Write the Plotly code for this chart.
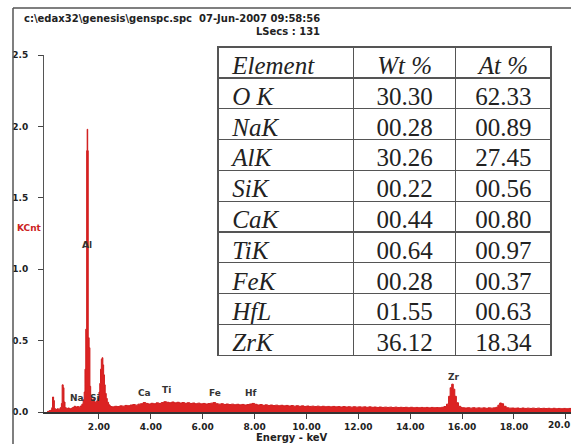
import plotly.graph_objects as go

# ---- spectrum ----
energy_kev = [
    0.00, 0.08, 0.14, 0.18, 0.21, 0.25, 0.28, 0.32, 0.38, 0.44,
    0.50, 0.55, 0.58, 0.62, 0.65, 0.69, 0.74, 0.80, 0.86, 0.92,
    0.98, 1.04, 1.10, 1.16, 1.22, 1.28, 1.34, 1.39, 1.43, 1.46,
    1.49, 1.525, 1.545, 1.565, 1.585, 1.62, 1.65, 1.68, 1.72, 1.76,
    1.81, 1.86, 1.91, 1.96, 2.00, 2.03, 2.06, 2.09, 2.12, 2.15,
    2.18, 2.21, 2.24, 2.28, 2.32, 2.37, 2.42, 2.46,
    2.5, 2.6, 2.7, 2.8, 2.9, 3.0, 3.1, 3.2, 3.3, 3.4,
    3.5, 3.6, 3.7, 3.8, 3.9, 4.0, 4.1, 4.2, 4.3, 4.4,
    4.5, 4.6, 4.7, 4.8, 4.9, 5.0, 5.1, 5.2, 5.3, 5.4,
    5.5, 5.6, 5.7, 5.8, 5.9, 6.0, 6.1, 6.2, 6.3, 6.4,
    6.5, 6.6, 6.7, 6.8, 6.9, 7.0, 7.1, 7.2, 7.3, 7.4,
    7.5, 7.6, 7.7, 7.8, 7.9, 8.0, 8.1, 8.2, 8.3, 8.4,
    8.5, 8.6, 8.7, 8.8, 8.9, 9.0, 9.1, 9.2, 9.3, 9.4,
    9.5, 9.6, 9.7, 9.8, 9.9, 10.0, 10.1, 10.2, 10.3, 10.4,
    10.5, 10.6, 10.7, 10.8, 10.9, 11.0, 11.1, 11.2, 11.3, 11.4,
    11.5, 11.6, 11.7, 11.8, 11.9, 12.0, 12.1, 12.2, 12.3, 12.4,
    12.5, 12.6, 12.7, 12.8, 12.9, 13.0, 13.1, 13.2, 13.3, 13.4,
    13.5, 13.6, 13.7, 13.8, 13.9, 14.0, 14.1, 14.2, 14.3, 14.4,
    14.5, 14.6, 14.7, 14.8, 14.9, 15.0, 15.1, 15.2, 15.3, 15.4,
    15.48, 15.54, 15.60, 15.66, 15.72, 15.78, 15.86, 15.95,
    16.0, 16.1, 16.2, 16.3, 16.4, 16.5, 16.6, 16.7, 16.8, 16.9,
    17.0, 17.1, 17.2, 17.3, 17.38, 17.45, 17.52, 17.6, 17.7, 17.8,
    17.9, 18.0, 18.1, 18.2, 18.3, 18.4, 18.5, 18.6, 18.7, 18.8,
    18.9, 19.0, 19.1, 19.2, 19.3, 19.4, 19.5, 19.6, 19.7, 19.8,
    19.9, 20.0, 20.1, 20.2, 20.3,
]
kcnt = [
    0.004, 0.010, 0.014, 0.030, 0.105, 0.080, 0.024, 0.018, 0.022, 0.020,
    0.030, 0.060, 0.190, 0.170, 0.070, 0.030, 0.025, 0.028, 0.022, 0.026,
    0.032, 0.040, 0.035, 0.038, 0.034, 0.042, 0.055, 0.085, 0.140, 0.300,
    0.580, 1.830, 1.980, 1.830, 0.520, 0.450, 0.180, 0.100, 0.075, 0.090,
    0.072, 0.068, 0.078, 0.095, 0.140, 0.200, 0.300, 0.370, 0.380, 0.330,
    0.260, 0.190, 0.130, 0.095, 0.068, 0.050, 0.042, 0.038,
    0.036, 0.040, 0.038, 0.043, 0.041, 0.046, 0.044, 0.049, 0.052, 0.048,
    0.055, 0.058, 0.066, 0.060, 0.056, 0.061, 0.058, 0.064, 0.060, 0.066,
    0.072, 0.068, 0.065, 0.070, 0.064, 0.068, 0.063, 0.066, 0.061, 0.065,
    0.060, 0.063, 0.058, 0.062, 0.057, 0.060, 0.056, 0.059, 0.062, 0.066,
    0.058, 0.055, 0.058, 0.053, 0.056, 0.052, 0.055, 0.051, 0.054, 0.050,
    0.053, 0.049, 0.052, 0.056, 0.060, 0.054, 0.049, 0.052, 0.047, 0.050,
    0.046, 0.049, 0.045, 0.048, 0.044, 0.047, 0.043, 0.046, 0.042, 0.045,
    0.041, 0.044, 0.040, 0.043, 0.039, 0.042, 0.039, 0.041, 0.038, 0.041,
    0.037, 0.040, 0.037, 0.039, 0.036, 0.039, 0.036, 0.038, 0.035, 0.038,
    0.035, 0.037, 0.034, 0.037, 0.034, 0.036, 0.034, 0.036, 0.033, 0.036,
    0.033, 0.035, 0.032, 0.035, 0.032, 0.034, 0.032, 0.034, 0.031, 0.034,
    0.031, 0.033, 0.031, 0.033, 0.030, 0.033, 0.030, 0.032, 0.030, 0.032,
    0.030, 0.032, 0.029, 0.032, 0.030, 0.031, 0.030, 0.033, 0.038, 0.055,
    0.110, 0.170, 0.195, 0.160, 0.110, 0.065, 0.040, 0.032,
    0.030, 0.028, 0.030, 0.027, 0.030, 0.027, 0.029, 0.027, 0.029, 0.026,
    0.029, 0.027, 0.029, 0.033, 0.048, 0.063, 0.058, 0.040, 0.030, 0.027,
    0.028, 0.026, 0.028, 0.025, 0.028, 0.025, 0.027, 0.025, 0.027, 0.024,
    0.027, 0.024, 0.026, 0.024, 0.026, 0.023, 0.026, 0.023, 0.025, 0.023,
    0.025, 0.023, 0.025, 0.023, 0.024,
]

# ---- peak labels ----
peak_labels = ["Na", "Si", "Al", "Ca", "Ti", "Fe", "Hf", "Zr"]
peak_label_kev = [1.15, 1.85, 1.55, 3.74, 4.62, 6.47, 7.86, 15.69]
peak_label_kcnt = [0.10, 0.10, 1.17, 0.13, 0.155, 0.13, 0.13, 0.245]

# ---- axes ticks (last label is cut by the right edge in the original) ----
x_tick_vals = [2, 4, 6, 8, 10, 12, 14, 16, 18, 20]
x_tick_text = ["2.00", "4.00", "6.00", "8.00", "10.00", "12.00", "14.00", "16.00", "18.00", ""]
x_edge_label = "20.0"
y_tick_vals = [0.0, 0.5, 1.0, 1.5, 2.0, 2.5]
y_tick_text = ["0.0", "0.5", "1.0", "1.5", "2.0", "2.5"]

# ---- composition table ----
table_header = ["Element", "Wt %", "At %"]
table_elements = ["O K", "NaK", "AlK", "SiK", "CaK", "TiK", "FeK", "HfL", "ZrK"]
table_wt = ["30.30", "00.28", "30.26", "00.22", "00.44", "00.64", "00.28", "01.55", "36.12"]
table_at = ["62.33", "00.89", "27.45", "00.56", "00.80", "00.97", "00.37", "00.63", "18.34"]

header_line1 = "c:\\edax32\\genesis\\genspc.spc  07-Jun-2007 09:58:56"
header_line2 = "LSecs : 131"

# ---- geometry (pixels) ----
W, H = 571, 444
ML, MR, MT, MB = 44, 0, 40, 32
PW, PH = W - ML - MR, H - MT - MB


def px(xp):
    return (xp - ML) / PW


def py(yp):
    return (H - MB - yp) / PH


def nb(s):
    # non-breaking spaces keep table cells on one line
    return s.replace(" ", "\u00a0")


RED = "#dc2323"
INK = "#222222"
SANS = "DejaVu Sans"

fig = go.Figure()
fig.add_trace(go.Scatter(
    x=energy_kev, y=kcnt, mode="lines",
    line=dict(color="#d01c1c", width=1, shape="hv"),
    fill="tozeroy", fillcolor=RED, hoverinfo="skip", showlegend=False,
))

fig.add_trace(go.Table(
    domain=dict(x=[px(218), px(551)], y=[py(357), py(47)]),
    columnwidth=[135, 102, 95],
    header=dict(
        values=["\u00a0" + nb(table_header[0]), nb(table_header[1]), nb(table_header[2])],
        align=["left", "center", "center"],
        height=31,
        fill=dict(color="white"),
        line=dict(color="#555555", width=1.2),
        font=dict(family="Liberation Serif", size=25, color=INK, style="italic"),
    ),
    cells=dict(
        values=[["\u00a0" + nb(e) for e in table_elements], table_wt, table_at],
        align=["left", "center", "center"],
        height=30.8,
        fill=dict(color="white"),
        line=dict(color="#555555", width=1.2),
        font=dict(family="Liberation Serif", size=25, color=INK,
                  style=["italic", "normal", "normal"]),
    ),
))

annotations = []
for lab, xv, yv in zip(peak_labels, peak_label_kev, peak_label_kcnt):
    annotations.append(dict(
        x=xv, y=yv, xref="x", yref="y", text="<b>" + lab + "</b>", showarrow=False,
        font=dict(family=SANS, size=9, color="#333333"),
        xanchor="center", yanchor="middle",
    ))

annotations += [
    dict(x=px(322), y=py(18), xref="paper", yref="paper", text="<b>" + nb(header_line1) + "</b>",
         showarrow=False, xanchor="right", yanchor="middle",
         font=dict(family=SANS, size=10, color=INK)),
    dict(x=px(322), y=py(31), xref="paper", yref="paper", text="<b>" + header_line2 + "</b>",
         showarrow=False, xanchor="right", yanchor="middle",
         font=dict(family=SANS, size=10, color=INK)),
    dict(x=px(15), y=py(228), xref="paper", yref="paper", text="<b>KCnt</b>",
         showarrow=False, xanchor="left", yanchor="middle",
         font=dict(family=SANS, size=9, color="#cc2222")),
    dict(x=px(292), y=py(437), xref="paper", yref="paper", text="<b>Energy - keV</b>",
         showarrow=False, xanchor="center", yanchor="middle",
         font=dict(family=SANS, size=10, color=INK)),
    dict(x=1.0, y=py(425), xref="paper", yref="paper", text="<b>" + x_edge_label + "</b>",
         showarrow=False, xanchor="right", yanchor="middle", xshift=1,
         font=dict(family=SANS, size=9, color=INK)),
]

shapes = [
    dict(type="line", xref="paper", yref="paper", x0=px(13), x1=px(13), y0=py(446), y1=py(8),
         line=dict(color="#555555", width=1.5)),
    dict(type="line", xref="paper", yref="paper", x0=px(13), x1=1.0, y0=py(8), y1=py(8),
         line=dict(color="#555555", width=1.5)),
]

fig.update_layout(
    width=W, height=H,
    margin=dict(l=ML, r=MR, t=MT, b=MB, pad=0),
    paper_bgcolor="white", plot_bgcolor="white",
    showlegend=False,
    annotations=annotations, shapes=shapes,
    xaxis=dict(
        range=[-0.12, 20.2], showgrid=False, zeroline=False,
        showline=True, linecolor="#333333", linewidth=1.5,
        ticks="outside", ticklen=5, tickcolor="#444444", tickwidth=1,
        tickvals=x_tick_vals, ticktext=x_tick_text,
        tickfont=dict(family=SANS, size=9, color=INK, weight="bold"),
        fixedrange=True,
    ),
    yaxis=dict(
        range=[0, 2.5], domain=[0, py(55)], showgrid=False, zeroline=False,
        showline=True, linecolor="#555555", linewidth=1,
        ticks="outside", ticklen=5, tickcolor="#444444", tickwidth=1,
        tickvals=y_tick_vals, ticktext=y_tick_text, ticklabelstandoff=8,
        tickfont=dict(family=SANS, size=9, color=INK, weight="bold"),
        fixedrange=True,
    ),
)

fig.write_html(
    "out.html",
    config={"displayModeBar": False},
    post_script="document.body.style.margin='0';document.body.style.overflow='hidden';"
                "document.documentElement.style.overflow='hidden';",
)
